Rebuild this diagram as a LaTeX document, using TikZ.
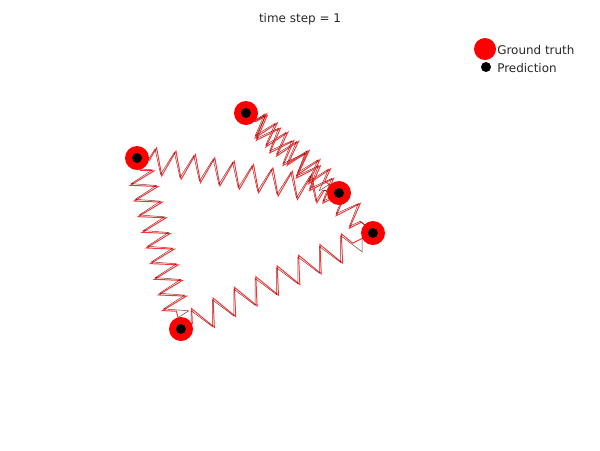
\documentclass[tikz,border=0pt]{standalone}
\usepackage{fontspec}
\setmainfont{DejaVu Sans}
\usetikzlibrary{decorations.pathmorphing}
\begin{document}
\begin{tikzpicture}[x=0.025cm,y=-0.025cm,
  ball/.style={circle,fill=red,minimum size=0.6cm,inner sep=0pt},
  dot/.style={circle,fill=black,minimum size=0.25cm,inner sep=0pt},
  springA/.style={draw=red!80,line width=0.7pt,decorate,decoration={zigzag,amplitude=#1,segment length=\seglen,pre length=9pt,post length=9pt}},
  springB/.style={draw=black!60!red,line width=0.35pt,opacity=0.8,decorate,decoration={zigzag,amplitude=#1,segment length=\seglen,pre length=8pt,post length=8pt}},
  lbl/.style={font=\fontsize{8.5}{10}\selectfont,text=black!85,inner sep=0pt}]
\useasboundingbox (0,0) rectangle (600,450);
\node[lbl] (title) at (300,19) {time step = 1};
% balls
\coordinate (A) at (137,158);
\coordinate (B) at (246,113);
\coordinate (C) at (339,193);
\coordinate (D) at (373,233);
\coordinate (E) at (181,329);
% springs
\def\seglen{14pt}
\draw[springA=9.5pt] (A) -- (C);
\draw[springB=8.5pt] (A) -- (C);
\def\seglen{11.5pt}
\draw[springA=9.5pt] (A) -- (E);
\draw[springB=8.5pt] (A) -- (E);
\def\seglen{17pt}
\draw[springA=9.5pt] (E) -- (D);
\draw[springB=8.5pt] (E) -- (D);
\def\seglen{10pt}
\draw[springA=9pt] (B) -- (C);
\draw[springB=8pt] (B) -- (C);
\def\seglen{13pt}
\draw[springA=9pt] (B) -- (D);
\draw[springB=8pt] (B) -- (D);
\foreach \p in {A,B,C,D,E}{
  \node[ball] (g\p) at (\p) {};
  \node[dot] (p\p) at (\p) {};
}
% legend
\node[ball,minimum size=0.55cm] (lg) at (485,49) {};
\node[lbl,anchor=west] (lgt) at (497,50) {Ground truth};
\node[dot] (lp) at (486,67) {};
\node[lbl,anchor=west] (lpt) at (497,68) {Prediction};
\end{tikzpicture}
\end{document}
